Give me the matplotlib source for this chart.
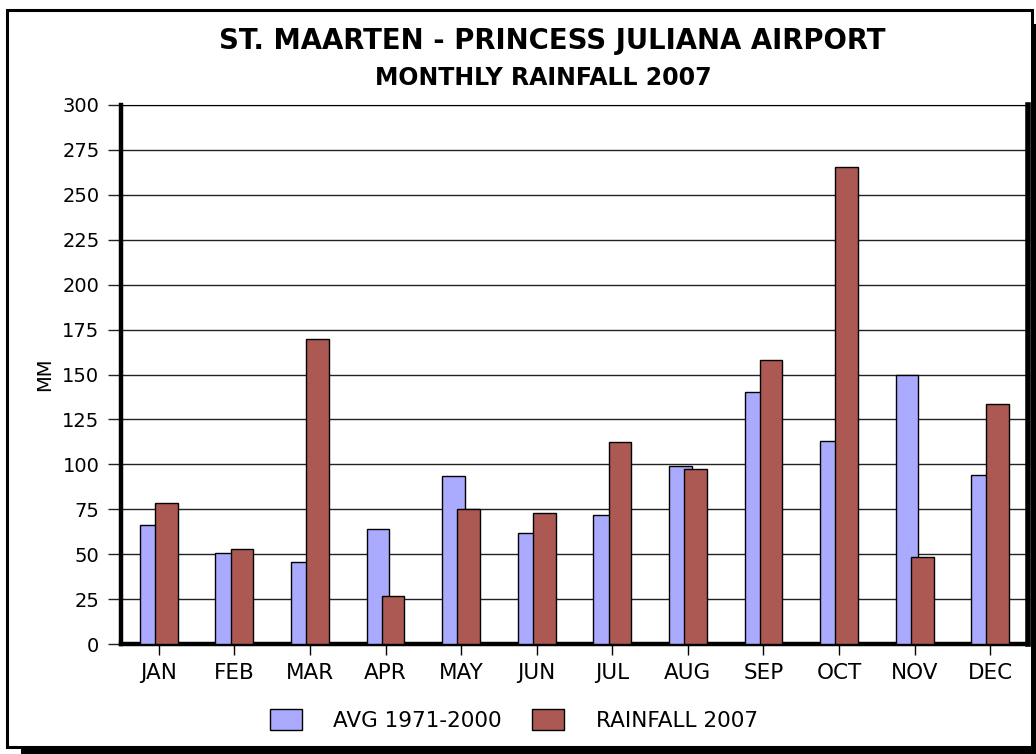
import matplotlib
matplotlib.use("Agg")
import matplotlib.pyplot as plt
from matplotlib.patches import Rectangle, Patch
import numpy as np

# DejaVu is a bit wider than Arial, closer to the stretched text in the original
plt.rcParams['font.family'] = ['DejaVu Sans']

months = ['JAN', 'FEB', 'MAR', 'APR', 'MAY', 'JUN', 'JUL', 'AUG', 'SEP', 'OCT', 'NOV', 'DEC']
avg_1971_2000 = [66, 50.5, 45.5, 64, 93.5, 62, 72, 99, 140, 113, 150, 94]
rain_2007 = [78.5, 53, 169.5, 26.5, 75, 73, 112.5, 97.5, 158, 265.5, 48.5, 133.5]

W, H = 1036, 754
fig = plt.figure(figsize=(W / 100, H / 100), dpi=100)

# frame with drop shadow (pixel coords -> figure fraction)
def px(x0, y0, x1, y1):
    return (x0 / W, 1 - y1 / H), (x1 - x0) / W, (y1 - y0) / H

xy, w, h = px(21, 24, 1036, 754)
fig.patches.append(Rectangle(xy, w, h, transform=fig.transFigure,
                             facecolor='black', edgecolor='none', zorder=-3))
xy, w, h = px(7, 10, 1032, 747)
fig.patches.append(Rectangle(xy, w, h, transform=fig.transFigure,
                             facecolor='white', edgecolor='black', lw=2.2, zorder=-2))

ax = fig.add_axes([121 / W, 1 - 644 / H, (1028 - 121) / W, (644 - 105) / H])
ax.set_facecolor('none')

x = np.arange(len(months))
bw = 0.30
ax.bar(x - 0.1, avg_1971_2000, bw, color='#AAAAFF', edgecolor='black', lw=1, zorder=3)
ax.bar(x + 0.1, rain_2007, bw, color='#AC5853', edgecolor='black', lw=1, zorder=4)

ax.set_xlim(-0.5, 11.5)
ax.set_ylim(0, 300)
ax.set_yticks(np.arange(0, 301, 25))
ax.set_xticks(x)
ax.set_xticklabels(months)
ax.yaxis.grid(True, color='#222222', lw=1)
ax.set_axisbelow(True)
ax.tick_params(axis='y', length=9.5, width=1, color='#222222', pad=6, labelsize=14)
ax.tick_params(axis='x', length=8, width=1, color='black', pad=6, labelsize=15.5)

for s, lw in [('left', 3.2), ('bottom', 3.2), ('right', 4), ('top', 0.8)]:
    ax.spines[s].set_linewidth(lw)
    ax.spines[s].set_color('black')

ax.set_ylabel('MM', fontsize=14, labelpad=6)

fig.text(0.533, 1 - 41 / H, 'ST. MAARTEN - PRINCESS JULIANA AIRPORT',
         ha='center', va='center', fontsize=19.8, fontweight='bold')
fig.text(0.524, 1 - 78 / H, 'MONTHLY RAINFALL 2007',
         ha='center', va='center', fontsize=17, fontweight='bold')

handles = [Patch(facecolor='#AAAAFF', edgecolor='black', lw=1, label='AVG 1971-2000'),
           Patch(facecolor='#AC5853', edgecolor='black', lw=1, label='RAINFALL 2007')]
fig.legend(handles=handles, loc='center', bbox_to_anchor=(0.496, 1 - 720 / H),
           ncol=2, frameon=False, fontsize=15.5, handlelength=1.5, handleheight=1.1,
           handletextpad=1.45, columnspacing=1.4)

fig.savefig('out.png', dpi=100)
